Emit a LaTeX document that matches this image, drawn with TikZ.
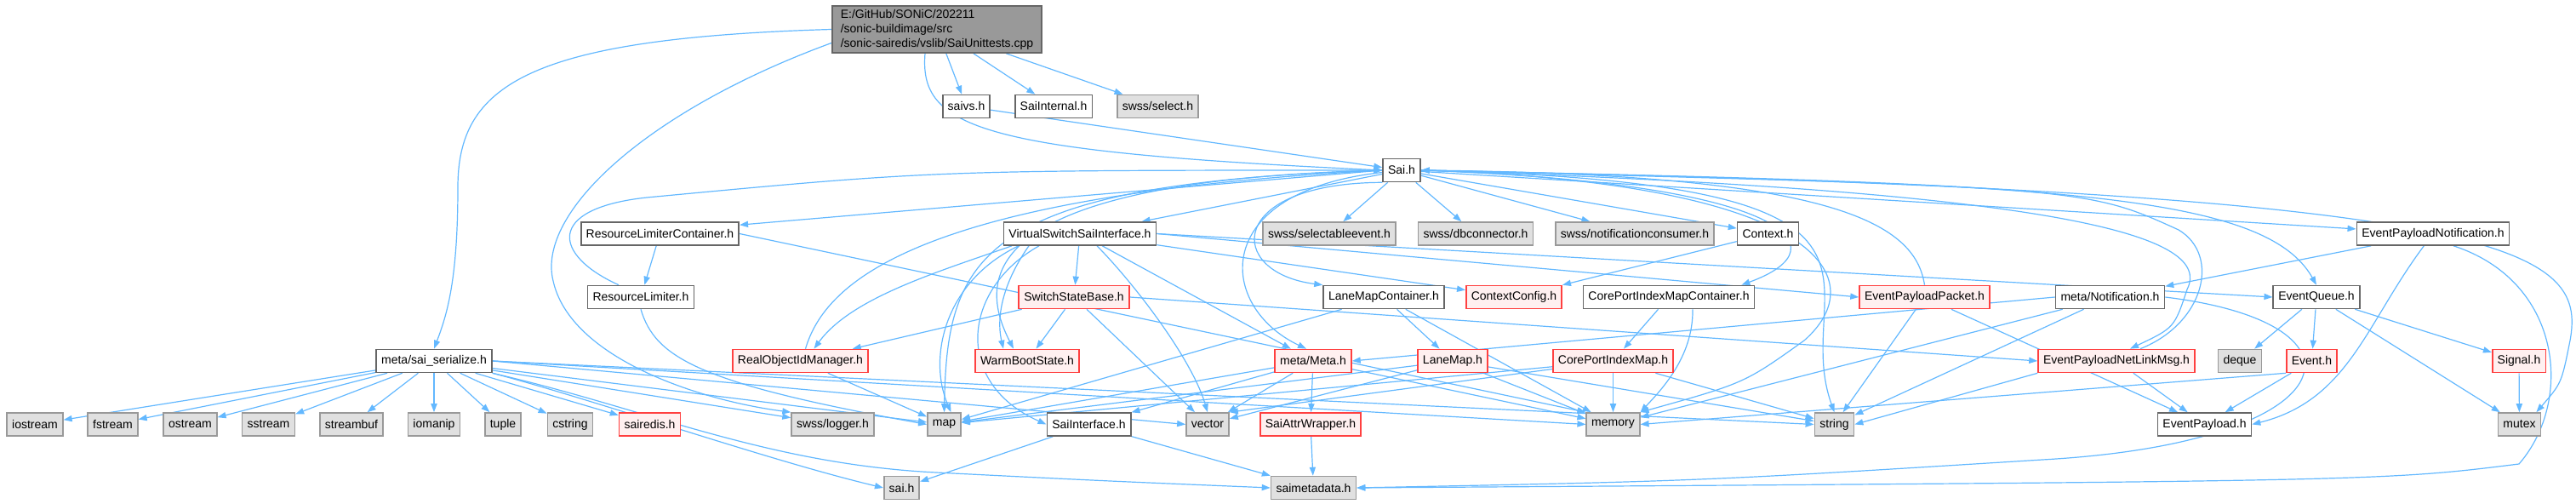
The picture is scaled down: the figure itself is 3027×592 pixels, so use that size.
\documentclass[tikz,border=0pt]{standalone}
\usepackage{fontspec}
\setmainfont{Liberation Sans}
\usetikzlibrary{arrows.meta}
\pgfdeclarelayer{background}
\pgfsetlayers{background,main}
\definecolor{EdgeBlue}{RGB}{99,184,255}
\definecolor{NodeGray}{RGB}{102,102,102}
\definecolor{SysLine}{RGB}{153,153,153}
\definecolor{SysFill}{RGB}{224,224,224}
\definecolor{RedLine}{RGB}{255,64,64}
\definecolor{RedFill}{RGB}{255,240,240}
\definecolor{RootFill}{RGB}{153,153,153}
\tikzset{
  hdr/.style={draw=NodeGray,fill=white,line width=0.8pt,minimum height=13.5pt,
    inner xsep=3pt,inner ysep=0pt,font=\fontsize{7}{8.5}\selectfont},
  hdrsys/.style={hdr,draw=SysLine,fill=SysFill},
  hdrred/.style={hdr,draw=RedLine,fill=RedFill},
  hdrroot/.style={hdr,fill=RootFill,align=left,inner xsep=5pt,inner ysep=2pt},
  dep/.style={-{Triangle[length=5pt,width=3.6pt]},EdgeBlue,line width=0.6pt}
}

\begin{document}
\begin{tikzpicture}[x=0.5pt,y=-0.5pt]
\useasboundingbox (0,0) rectangle (3027,592);

% the unit test file and what it pulls in
\node[hdrroot] (root) at (1101,34.5)
  {E:/GitHub/SONiC/202211\\/sonic-buildimage/src\\/sonic-sairedis/vslib/SaiUnittests.cpp};
\node[hdr] (saivs) at (1135.5,125) {saivs.h};
\node[hdr] (saiinternal) at (1238,125) {SaiInternal.h};
\node[hdrsys] (swssselect) at (1360.5,125) {swss/select.h};
\node[hdr] (sai) at (1647,200) {Sai.h};

% row below Sai.h
\node[hdr] (rlcont) at (775.5,274.5) {ResourceLimiterContainer.h};
\node[hdr] (vssi) at (1269,274.5) {VirtualSwitchSaiInterface.h};
\node[hdrsys] (selectable) at (1562,274.5) {swss/selectableevent.h};
\node[hdrsys] (dbconn) at (1734,274.5) {swss/dbconnector.h};
\node[hdrsys] (notifcons) at (1921,274.5) {swss/notificationconsumer.h};
\node[hdr] (context) at (2077.5,274.5) {Context.h};
\node[hdr] (epnotif) at (2859,274.5) {EventPayloadNotification.h};

\node[hdr] (rlimit) at (753,349) {ResourceLimiter.h};
\node[hdrred] (ssb) at (1262,349) {SwitchStateBase.h};
\node[hdr] (lanecont) at (1626,349) {LaneMapContainer.h};
\node[hdrred] (ctxcfg) at (1779,349) {ContextConfig.h};
\node[hdr] (cpimcont) at (1961,349) {CorePortIndexMapContainer.h};
\node[hdrred] (eppacket) at (2261.5,349) {EventPayloadPacket.h};
\node[hdr] (metanotif) at (2479.5,349) {meta/Notification.h};
\node[hdr] (evqueue) at (2722,349) {EventQueue.h};

\node[hdr] (serialize) at (510,424) {meta/sai\_serialize.h};
\node[hdrred] (roid) at (940.5,424) {RealObjectIdManager.h};
\node[hdrred] (warmboot) at (1207,424) {WarmBootState.h};
\node[hdrred] (metameta) at (1543,424) {meta/Meta.h};
\node[hdrred] (lanemap) at (1707,424) {LaneMap.h};
\node[hdrred] (cpim) at (1895.5,424) {CorePortIndexMap.h};
\node[hdrred] (epnetlink) at (2487,424) {EventPayloadNetLinkMsg.h};
\node[hdrsys] (deque) at (2632,424) {deque};
\node[hdrred] (event) at (2716.5,424) {Event.h};
\node[hdrred] (signal) at (2960,424) {Signal.h};

% system and leaf headers
\node[hdrsys] (iostream) at (41,498.5) {iostream};
\node[hdrsys] (fstream) at (132.5,498.5) {fstream};
\node[hdrsys] (ostream) at (223.5,498.5) {ostream};
\node[hdrsys] (sstream) at (315.5,498.5) {sstream};
\node[hdrsys] (streambuf) at (413,498.5) {streambuf};
\node[hdrsys] (iomanip) at (510,498.5) {iomanip};
\node[hdrsys] (tuple) at (591,498.5) {tuple};
\node[hdrsys] (cstring) at (670,498.5) {cstring};
\node[hdrred] (sairedis) at (763.5,498.5) {sairedis.h};
\node[hdrsys] (logger) at (978.5,498.5) {swss/logger.h};
\node[hdrsys] (map) at (1109.5,498.5) {map};
\node[hdr] (saiif) at (1279.5,498.5) {SaiInterface.h};
\node[hdrsys] (vector) at (1419,498.5) {vector};
\node[hdrred] (attrwrap) at (1540,498.5) {SaiAttrWrapper.h};
\node[hdrsys] (memory) at (1895.5,498.5) {memory};
\node[hdrsys] (string) at (2155.5,498.5) {string};
\node[hdr] (eppayload) at (2590.5,498.5) {EventPayload.h};
\node[hdrsys] (mutex) at (2960.5,498.5) {mutex};
\node[hdrsys] (saih) at (1059.5,573) {sai.h};
\node[hdrsys] (saimeta) at (1543.5,573) {saimetadata.h};

\begin{pgfonlayer}{background}
% edges from the unit test file
\draw[dep] (root) -- (saivs);
\draw[dep] (root) -- (saiinternal);
\draw[dep] (root) -- (swssselect);
\draw[dep] ([xshift=-7pt]root.south) .. controls (1080,150) and (1150,178) .. (sai.west);
\draw[dep] (root.west) .. controls (620,45) and (538,100) .. (538,220)
  .. controls (538,330) and (525,370) .. (serialize.north);
\draw[dep] ([yshift=-8pt]root.west) .. controls (760,130) and (630,250) .. (650,330)
  .. controls (670,420) and (820,470) .. (logger.north west);
\draw[dep] (saivs) -- (sai);

% Sai.h
\draw[dep] (sai) -- (selectable);
\draw[dep] (sai) -- (dbconn);
\draw[dep] (sai) -- (notifcons);
\draw[dep] (sai) -- (context);
\draw[dep] (sai.west) -- ([yshift=-2pt]rlcont.north east);
\draw[dep] (sai) -- (vssi);
\draw[dep] (sai) -- (epnotif);
\draw[dep] (sai.south west) .. controls (1440,215) and (1440,320) .. (lanecont.north west);
\draw[dep] (sai) .. controls (1420,225) and (1430,360) .. ([xshift=-4pt]metameta.north);
\draw[dep] (sai.east) .. controls (2100,215) and (2170,290) .. ([xshift=-8pt]cpimcont.north east);
\draw[dep] (sai.east) .. controls (2400,215) and (2660,225) .. (evqueue.north);
\draw[dep] (sai.east) .. controls (2950,225) and (3040,290) .. (3020,400)
  .. controls (3010,450) .. ([xshift=-3pt]mutex.north east);
\draw[dep] (sai.east) .. controls (2150,215) and (2200,330) .. (2120,400)
  .. controls (2050,450) .. (memory.north east);
\draw[dep] (sai.east) .. controls (2300,215) and (2100,330) .. (string.north);
\draw[dep] (sai.west) .. controls (1150,215) and (1113,300) .. (map.north);
\draw[dep] (sai.west) .. controls (1140,212) and (1150,330) .. ([xshift=-8pt]warmboot.north);
\draw[dep] (sai.east) .. controls (2450,225) and (2600,280) .. (2570,340)
  .. controls (2555,385) .. ([xshift=8pt]epnetlink.north);
\draw[dep] ([xshift=-13pt]rlimit.north) .. controls (650,300) and (640,245) .. (760,232)
  .. controls (1100,200) .. (sai.west);
\draw[dep] ([xshift=3pt]roid.north) .. controls (970,330) and (1080,230) .. (sai.west);
\draw[dep] (eppacket.north) .. controls (2250,260) and (2150,205) .. (sai.east);
\draw[dep] ([xshift=14pt]epnetlink.north) .. controls (2590,380) and (2610,300) .. (2560,270)
  .. controls (2450,220) .. (sai.east);

% VirtualSwitchSaiInterface.h and SwitchStateBase.h
\draw[dep] (vssi) -- (ssb);
\draw[dep] ([xshift=-30pt]vssi.south) .. controls (1180,330) and (1170,370) .. ([xshift=-14pt]warmboot.north);
\draw[dep] ([xshift=-40pt]vssi.south) .. controls (1100,320) and (1000,350) .. ([xshift=8pt]roid.north);
\draw[dep] ([xshift=-36pt]vssi.south) .. controls (1110,330) and (1090,420) .. ([xshift=4pt]map.north);
\draw[dep] ([xshift=-24pt]vssi.south) .. controls (1130,340) and (1120,450) .. (saiif.west);
\draw[dep] (vssi) -- (metameta);
\draw[dep] ([xshift=10pt]vssi.south) .. controls (1330,330) and (1400,420) .. (vector.north);
\draw[dep] (vssi) -- (ctxcfg);
\draw[dep] (vssi.east) -- (eppacket.west);
\draw[dep] (vssi.east) -- (evqueue.west);
\draw[dep] (ssb) -- (warmboot);
\draw[dep] (ssb) -- (roid);
\draw[dep] (ssb) -- (vector);
\draw[dep] (ssb.east) -- (epnetlink.west);

% resource limiter
\draw[dep] (rlcont) -- (rlimit);
\draw[dep] (rlcont.east) -- (memory.north west);
\draw[dep] (rlimit.south) .. controls (770,420) and (820,450) .. (map.west);
\draw[dep] (roid) -- (map);

% meta
\draw[dep] (metameta) -- (saiif);
\draw[dep] (metameta) -- (vector);
\draw[dep] (metameta) -- (map);
\draw[dep] (metameta) -- (memory);
\draw[dep] (metameta) -- (attrwrap);
\draw[dep] (attrwrap) -- (saimeta);
\draw[dep] (saiif) -- (saih);
\draw[dep] (saiif) -- (saimeta);

% lane and port maps
\draw[dep] (lanecont) -- (lanemap);
\draw[dep] (lanecont) -- (memory);
\draw[dep] (lanecont) -- (map);
\draw[dep] (lanemap) -- (memory);
\draw[dep] (lanemap) -- (string);
\draw[dep] (lanemap) -- (vector);
\draw[dep] (lanemap) -- (map);
\draw[dep] (cpimcont) -- (cpim);
\draw[dep] ([xshift=14pt]cpimcont.south) .. controls (1990,420) and (1950,460) .. (memory.north east);
\draw[dep] (cpim) -- (memory);
\draw[dep] (cpim) -- (string);
\draw[dep] (cpim) -- (vector.north east);
\draw[dep] (cpim) -- (map);
\draw[dep] (context) -- (ctxcfg);

% events
\draw[dep] (eppacket) -- (eppayload);
\draw[dep] (eppacket) -- (string);
\draw[dep] (metanotif) -- (string);
\draw[dep] (metanotif) -- (memory);
\draw[dep] (metanotif.west) -- (metameta.east);
\draw[dep] (metanotif.east) .. controls (2800,380) and (2760,520) .. (2400,540)
  .. controls (2000,565) .. (saimeta.east);
\draw[dep] (epnotif) -- (metanotif);
\draw[dep] (epnotif) .. controls (2780,380) and (2760,470) .. (eppayload.east);
\draw[dep] ([xshift=12pt]epnotif.south) .. controls (3010,330) and (3025,470) .. (2960,545)
  .. controls (2800,565) .. (saimeta.east);
\draw[dep] (evqueue) -- (deque);
\draw[dep] (evqueue) -- (event);
\draw[dep] (evqueue) -- (mutex);
\draw[dep] (evqueue) -- (signal);
\draw[dep] (event) -- (eppayload);
\draw[dep] (event.south west) -- (memory.east);
\draw[dep] (epnetlink) -- (eppayload);
\draw[dep] (epnetlink.south west) -- (string.east);
\draw[dep] (signal) -- (mutex);

% meta/sai_serialize.h
\draw[dep] (serialize) -- (iostream);
\draw[dep] (serialize) -- (fstream);
\draw[dep] (serialize) -- (ostream);
\draw[dep] (serialize) -- (sstream);
\draw[dep] (serialize) -- (streambuf);
\draw[dep] (serialize) -- (iomanip);
\draw[dep] (serialize) -- (tuple);
\draw[dep] (serialize) -- (cstring);
\draw[dep] (serialize) -- (sairedis);
\draw[dep] (serialize) -- (logger);
\draw[dep] (serialize) -- (map);
\draw[dep] (serialize.east) -- (vector.west);
\draw[dep] (serialize.east) -- (memory.west);
\draw[dep] (serialize.east) -- (string.west);
\draw[dep] (serialize.south east) .. controls (700,470) and (900,540) .. (saih.west);
\draw[dep] (serialize.south east) .. controls (760,480) and (900,545) .. (1100,555)
  .. controls (1300,565) .. (saimeta.west);
\end{pgfonlayer}

\end{tikzpicture}
\end{document}
